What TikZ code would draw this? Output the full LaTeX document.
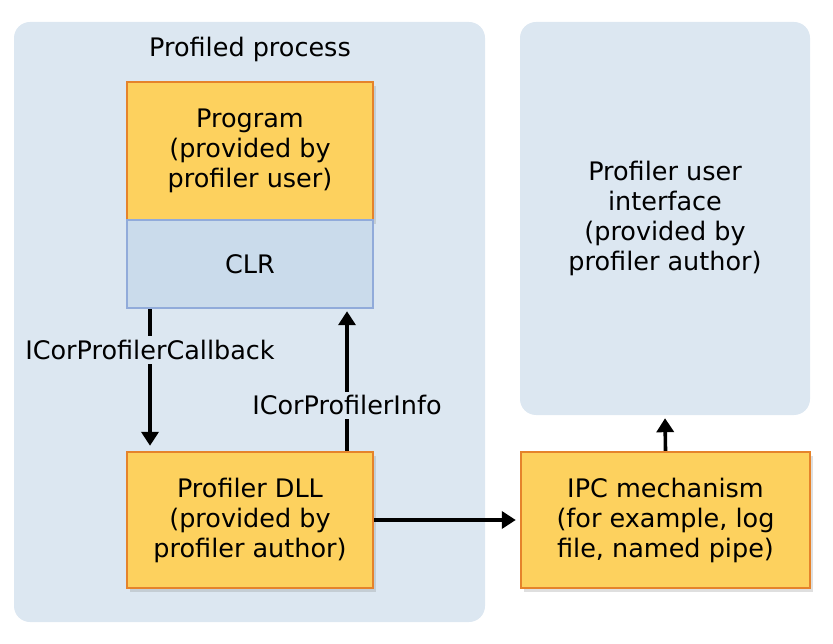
\documentclass[tikz,border=0pt]{standalone}
\usepackage{fontspec}
\setmainfont{DejaVu Sans}
\usetikzlibrary{arrows.meta,shadows}

\definecolor{panelblue}{HTML}{DCE7F1}
\definecolor{boxyellow}{HTML}{FDD15E}
\definecolor{boxorange}{HTML}{E5832B}
\definecolor{clrblue}{HTML}{CADBEB}
\definecolor{clredge}{HTML}{91ABDA}

\begin{document}
\begin{tikzpicture}[
        x=1pt,y=-1pt,
        font=\fontsize{25.5}{30}\selectfont,
        panel/.style={fill=panelblue, rounded corners=16pt, inner sep=0pt},
        partbox/.style={
            fill=boxyellow,
            draw=boxorange,
            line width=2.4pt,
            align=center,
            drop shadow={shadow xshift=3pt,shadow yshift=-4pt,opacity=0.25}
            },
        clrbox/.style={fill=clrblue, draw=clredge, line width=2.4pt, align=center},
        flow/.style={line width=3.6pt, -{Triangle[width=17pt,length=14pt]}},
        iface/.style={fill=panelblue, inner sep=4pt}
    ]
    \useasboundingbox (0,0) rectangle (833,644);

    % Panels:
    \node[panel, minimum width=471pt, minimum height=600pt] (proc) at (249.5,322) {};
    \node[panel, minimum width=290pt, minimum height=393pt, align=center] (ui) at (665,218.5)
        {Profiler user\\interface\\(provided by\\profiler author)};
    \node (proctitle) at (250,49) {Profiled process};

    % Boxes:
    \node[partbox, minimum width=246pt, minimum height=138pt] (prog) at (250,151)
        {Program\\(provided by\\profiler user)};
    \node[clrbox, minimum width=246pt, minimum height=88pt] (clr) at (250,264) {CLR};
    \node[partbox, minimum width=246pt, minimum height=136pt] (dll) at (250,520)
        {Profiler DLL\\(provided by\\profiler author)};
    \node[partbox, minimum width=289pt, minimum height=136pt] (ipc) at (665.5,520)
        {IPC mechanism\\(for example, log\\file, named pipe)};

    % Arrows:
    \draw[flow, shorten >=5pt] ([xshift=-100pt]clr.south) -- ([xshift=-100pt]dll.north)
        node[iface, pos=0.29] {ICorProfilerCallback};
    \draw[flow, shorten >=2pt] ([xshift=97pt]dll.north) -- ([xshift=97pt]clr.south)
        node[iface, pos=0.32] {ICorProfilerInfo};
    \draw[flow, shorten >=4pt] (dll.east) -- (ipc.west);
    \draw[flow, shorten >=3pt] (ipc.north) -- (ui.south);
\end{tikzpicture}
\end{document}
